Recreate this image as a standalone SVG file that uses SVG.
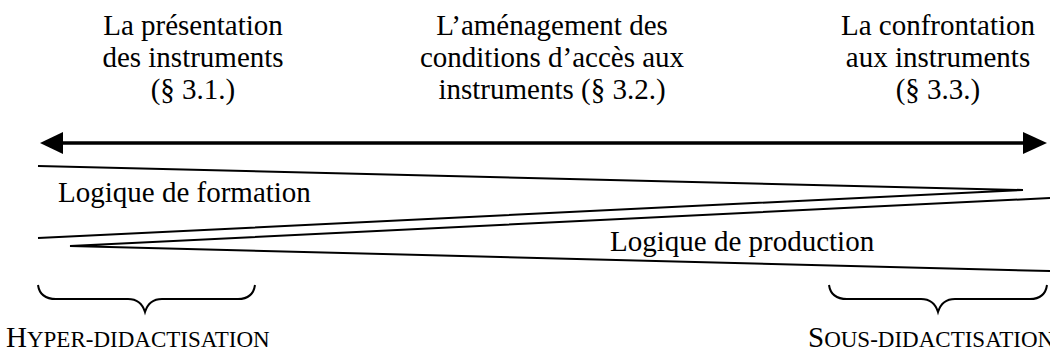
<svg xmlns="http://www.w3.org/2000/svg" width="1050" height="352" viewBox="0 0 1050 352">
  <style>
    .head { font-size: 29px; text-anchor: middle; }
    .label { font-size: 29px; }
    .sc-big { font-size: 29px; }
    .sc-small { font-size: 23px; }
    .line { stroke: #000; stroke-width: 2; fill: none; }
    .axis { stroke: #000; stroke-width: 3.5; fill: none; }
    .brace { stroke: #000; stroke-width: 2; fill: none; }
  </style>

  <g font-family="'Liberation Serif', 'Times New Roman', serif" fill="#000">
    <!-- section headings -->
    <g id="heading-31">
      <text class="head" x="193" y="35">La présentation</text>
      <text class="head" x="193" y="67">des instruments</text>
      <text class="head" x="193" y="99">(§ 3.1.)</text>
    </g>
    <g id="heading-32">
      <text class="head" x="552" y="35">L’aménagement des</text>
      <text class="head" x="552" y="67">conditions d’accès aux</text>
      <text class="head" x="552" y="99">instruments (§ 3.2.)</text>
    </g>
    <g id="heading-33">
      <text class="head" x="938" y="35">La confrontation</text>
      <text class="head" x="938" y="67">aux instruments</text>
      <text class="head" x="938" y="99">(§ 3.3.)</text>
    </g>

    <!-- double-headed axis and the two wedges -->
    <g id="connectors">
      <line class="axis" x1="60" y1="143" x2="1026" y2="143"/>
      <polygon points="40,143 63,132 63,154" fill="#000"/>
      <polygon points="1047,143 1023,132 1023,154" fill="#000"/>

      <!-- formation wedge: wide on the left, closing to the right -->
      <polyline class="line" points="38,166 1023,190 38,238"/>
      <!-- production wedge: point on the left, opening to the right -->
      <polyline class="line" points="1050,198 70,246 1050,271"/>
    </g>

    <g id="logique-formation">
      <text class="label" x="58" y="202">Logique de formation</text>
    </g>
    <g id="logique-production">
      <text class="label" x="610" y="251">Logique de production</text>
    </g>

    <!-- braces and their small-caps captions -->
    <g id="hyper-didactisation">
      <path class="brace" d="M38,285 Q40,299 56,299 L128,299 Q141,299 145,312 Q149,299 162,299 L238,299 Q253,299 255,285"/>
      <text x="6" y="347"><tspan class="sc-big">H</tspan><tspan class="sc-small">YPER-DIDACTISATION</tspan></text>
    </g>
    <g id="sous-didactisation">
      <path class="brace" d="M829,285 Q831,299 847,299 L921,299 Q934,299 938,312 Q942,299 955,299 L1030,299 Q1045,299 1047,285"/>
      <text x="808" y="347"><tspan class="sc-big">S</tspan><tspan class="sc-small">OUS-DIDACTISATION</tspan></text>
    </g>
  </g>
</svg>
